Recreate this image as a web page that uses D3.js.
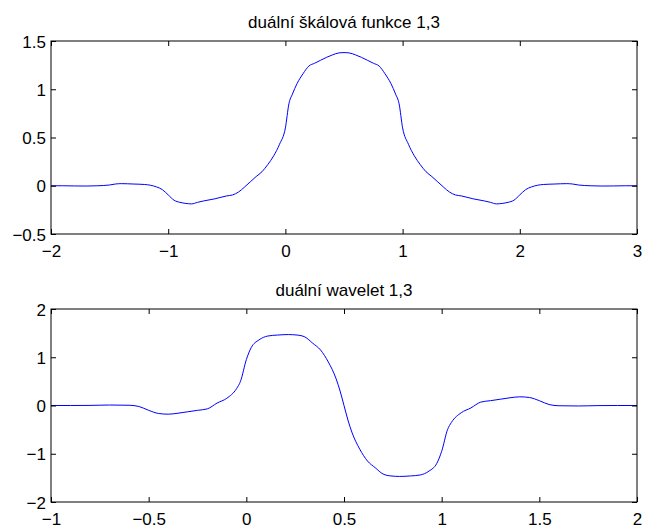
<html>
<head>
    <script src="https://d3js.org/d3.v7.min.js"></script>
    <style>
        body { margin: 0; background: #fff; }
        text { font-family: "Liberation Sans", Arial, sans-serif; }
    </style>
</head>
<body>
<script>
// horni graf: dualni skalova funkce 1,3
var phiX = [-2, -1.9, -1.8, -1.7, -1.6, -1.5, -1.45, -1.4, -1.3, -1.2, -1.15, -1.1, -1.05, -1.0,
    -0.95, -0.9, -0.85, -0.8, -0.75, -0.7, -0.6, -0.5, -0.45, -0.4, -0.35, -0.3, -0.25, -0.2,
    -0.15, -0.1, -0.05, 0.0, 0.03, 0.06, 0.1, 0.15, 0.2, 0.25, 0.3, 0.35, 0.4, 0.45, 0.5,
    0.55, 0.6, 0.65, 0.7, 0.75, 0.8, 0.85, 0.9, 0.94, 0.97, 1.0, 1.05, 1.1, 1.15, 1.2, 1.25,
    1.3, 1.35, 1.4, 1.45, 1.5, 1.6, 1.7, 1.75, 1.8, 1.85, 1.9, 1.95, 2.0, 2.05, 2.1, 2.15,
    2.2, 2.3, 2.4, 2.45, 2.5, 2.6, 2.7, 2.8, 2.9, 3.0];
var phiY = [0, 0, -0.002, -0.003, 0, 0.008, 0.018, 0.022, 0.018, 0.013, 0.005, -0.012, -0.04, -0.095,
    -0.15, -0.172, -0.183, -0.188, -0.172, -0.158, -0.135, -0.105, -0.095, -0.065, -0.015, 0.04, 0.095, 0.145,
    0.22, 0.31, 0.43, 0.6, 0.85, 0.95, 1.06, 1.16, 1.24, 1.27, 1.3, 1.33, 1.355, 1.375, 1.38,
    1.375, 1.355, 1.33, 1.3, 1.27, 1.24, 1.16, 1.06, 0.95, 0.85, 0.6, 0.43, 0.31, 0.22, 0.145, 0.095,
    0.04, -0.015, -0.065, -0.095, -0.105, -0.135, -0.158, -0.172, -0.188, -0.183, -0.172, -0.15, -0.095, -0.04, -0.012, 0.005,
    0.013, 0.018, 0.022, 0.018, 0.008, 0, -0.003, -0.002, 0, 0];

// dolni graf: dualni wavelet 1,3
var psiX = [-1.0, -0.9, -0.8, -0.7, -0.6, -0.55, -0.5, -0.45, -0.4, -0.35, -0.3, -0.25, -0.2,
    -0.15, -0.1, -0.05, -0.03, 0.0, 0.025, 0.065, 0.11, 0.16, 0.215, 0.26, 0.3, 0.34, 0.38,
    0.42, 0.46, 0.48, 0.5, 0.52, 0.54, 0.58, 0.62, 0.66, 0.7, 0.74, 0.785, 0.84, 0.89, 0.935,
    0.975, 1.0, 1.03, 1.05, 1.1, 1.15, 1.2, 1.25, 1.3, 1.35, 1.4, 1.45, 1.5, 1.55, 1.6, 1.7,
    1.8, 1.9, 2.0];
var psiY = [0, 0, 0.002, 0.01, 0.005, -0.02, -0.1, -0.165, -0.18, -0.16, -0.13, -0.1, -0.07,
    0.05, 0.15, 0.35, 0.5, 0.95, 1.2, 1.36, 1.44, 1.46, 1.47, 1.46, 1.42, 1.29, 1.15,
    0.9, 0.55, 0.3, 0, -0.3, -0.55, -0.9, -1.15, -1.29, -1.42, -1.46, -1.47, -1.46, -1.44, -1.36,
    -1.2, -0.95, -0.5, -0.35, -0.15, -0.05, 0.07, 0.1, 0.13, 0.16, 0.18, 0.165, 0.1, 0.02, -0.005, -0.01,
    -0.002, 0, 0];

var titles = ["duální škálová funkce 1,3", "duální wavelet 1,3"];
var phiXTicks = [-2, -1, 0, 1, 2, 3];
var phiYTicks = [-0.5, 0, 0.5, 1, 1.5];
var psiXTicks = [-1, -0.5, 0, 0.5, 1, 1.5, 2];
var psiYTicks = [-2, -1, 0, 1, 2];

var W = 645, H = 528;
var fs = 17;
var svg = d3.select("body").append("svg").attr("width", W).attr("height", H);
var fmt = d3.format("~g");

function panel(top, bottom, xs, ys, xDom, yDom, xTicks, yTicks, title) {
    var left = 51, right = 637, tl = 5;
    var x = d3.scaleLinear().domain(xDom).range([left, right]);
    var y = d3.scaleLinear().domain(yDom).range([bottom, top]);
    var g = svg.append("g");

    var pts = xs.map(function(v, i){ return [v, ys[i]]; });
    var line = d3.line().x(function(d){ return x(d[0]); }).y(function(d){ return y(d[1]); })
        .curve(d3.curveMonotoneX);
    g.append("path").attr("d", line(pts)).attr("fill", "none")
        .attr("stroke", "#0000ff").attr("stroke-width", 1);

    // osy s tiky dovnitr
    var xb = g.append("g").attr("transform", "translate(0," + bottom + ")")
        .call(d3.axisBottom(x).tickValues(xTicks).tickSizeInner(-tl).tickSizeOuter(0).tickFormat(fmt));
    xb.selectAll("text").attr("y", 0).attr("dy", 22.5);
    g.append("g").attr("transform", "translate(0," + top + ")")
        .call(d3.axisTop(x).tickValues(xTicks).tickSizeInner(-tl).tickSizeOuter(0).tickFormat(""));
    var yl = g.append("g").attr("transform", "translate(" + left + ",0)")
        .call(d3.axisLeft(y).tickValues(yTicks).tickSizeInner(-tl).tickSizeOuter(0).tickFormat(fmt));
    yl.selectAll("text").attr("x", -5).attr("dy", "0.36em");
    g.append("g").attr("transform", "translate(" + right + ",0)")
        .call(d3.axisRight(y).tickValues(yTicks).tickSizeInner(-tl).tickSizeOuter(0).tickFormat(""));

    g.selectAll(".domain").remove();
    g.selectAll(".tick line").attr("stroke", "#000");
    g.selectAll(".tick text").attr("fill", "#000").style("font-size", fs + "px")
        .style("font-family", "'Liberation Sans', Arial, sans-serif");

    g.append("rect").attr("x", left).attr("y", top).attr("width", right - left)
        .attr("height", bottom - top).attr("fill", "none").attr("stroke", "#000").attr("stroke-width", 1);

    g.append("text").attr("x", (left + right) / 2).attr("y", top - 13)
        .attr("text-anchor", "middle").style("font-size", fs + "px").attr("fill", "#000").text(title);
}

panel(41, 234, phiX, phiY, [-2, 3], [-0.5, 1.5], phiXTicks, phiYTicks, titles[0]);
panel(309, 502, psiX, psiY, [-1, 2], [-2, 2], psiXTicks, psiYTicks, titles[1]);
</script>
</body>
</html>
